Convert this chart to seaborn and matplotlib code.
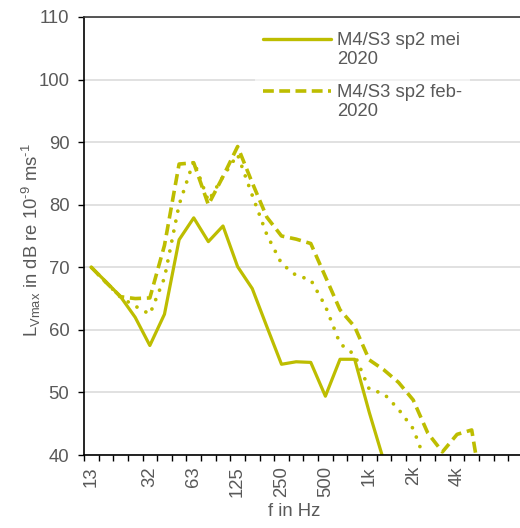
import numpy as np
import matplotlib
matplotlib.use("Agg")
import matplotlib.pyplot as plt
import matplotlib.transforms as mtransforms
from matplotlib.legend_handler import HandlerLine2D
from matplotlib.lines import Line2D
import seaborn as sns

# one-third octave band centres (Hz), plotted as categories
bands = ["12.5", "16", "20", "25", "31.5", "40", "50", "63", "80", "100",
         "125", "160", "200", "250", "315", "400", "500", "630", "800", "1k",
         "1.25k", "1.6k", "2k", "2.5k", "3.15k", "4k", "5k", "6.3k", "8k", "10k"]
label_idx = [0, 4, 7, 10, 13, 16, 19, 22, 25]
label_txt = ["13", "32", "63", "125", "250", "500", "1k", "2k", "4k"]

# L_Vmax per band (dB re 1e-9 m/s)
mei_2020 = [70.0, 67.7, 65.3, 62.0, 57.5, 62.5, 74.4, 77.9, 74.1, 76.6,
            70.1, 66.6, 60.5, 54.5, 54.9, 54.8, 49.4, 55.3, 55.3, 46.8,
            39.0]
feb_2020 = [70.0, 67.6, 65.3, 65.0, 65.1, 73.5, 86.5, 86.7, 80.0, 84.5,
            89.3, 83.5, 78.0, 75.0, 74.5, 73.8, 68.5, 63.2, 60.5, 55.2,
            53.6, 51.6, 48.8, 43.5, 40.5, 43.3, 44.0, 30.0]
extra_run = [70.0, 67.6, 65.2, 63.8, 62.5, 68.3, 80.0, 87.0, 80.6, 84.5,
             88.0, 81.5, 75.2, 70.6, 68.7, 68.0, 63.8, 57.8, 56.0, 50.5,
             49.8, 47.3, 44.2, 38.0]

legend_labels = ["M4/S3 sp2 mei\n2020", "M4/S3 sp2 feb-\n2020"]

LINE = "#bdbd00"
TXT = "#595959"
FS = 13.3

sns.set_theme(style="white")
plt.rcParams["font.family"] = ["Liberation Sans", "DejaVu Sans"]
plt.rcParams["mathtext.fontset"] = "custom"
plt.rcParams["mathtext.rm"] = "Liberation Sans"
plt.rcParams["mathtext.default"] = "regular"

W, H = 520, 528
fig = plt.figure(figsize=(W / 100, H / 100), dpi=100)
ax = fig.add_axes([84 / W, 1 - 455 / H, (W - 84) / W, (455 - 17) / H])

sns.lineplot(x=np.arange(len(mei_2020)), y=mei_2020, ax=ax, color=LINE,
             lw=2.3, solid_capstyle="round")

sns.lineplot(x=np.arange(len(feb_2020)), y=feb_2020, ax=ax, color=LINE, lw=2.6)
l_dash = ax.lines[-1]
l_dash.set_dashes((3.1, 1.6))
l_dash.set_dash_capstyle("butt")

sns.lineplot(x=np.arange(len(extra_run)), y=extra_run, ax=ax, color=LINE, lw=2.7)
l_dot = ax.lines[-1]
l_dot.set_dashes((0.01, 2.7))
l_dot.set_dash_capstyle("round")

# axes limits and ticks
ax.set_ylim(40, 110)
ax.set_xlim(-0.5, -0.5 + (W - 84) / 14.63)
ax.set_yticks(np.arange(40, 111, 10))
ax.set_xticks(label_idx)
ax.set_xticklabels(label_txt, rotation=90, va="top", ha="center")
ax.set_xticks(np.arange(len(bands)) - 0.5, minor=True)

ax.tick_params(axis="x", which="major", length=0, pad=8, labelsize=FS,
               labelcolor=TXT)
ax.tick_params(axis="x", which="minor", length=4.5, width=1.0, color="black",
               direction="out", bottom=True)
ax.tick_params(axis="y", which="major", length=4.5, width=1.0, color="black",
               direction="out", left=True, pad=6, labelsize=FS, labelcolor=TXT)

ax.grid(axis="y", color="#d9d9d9", lw=1.1)
ax.grid(axis="x", visible=False)
ax.set_axisbelow(True)

for side in ["left", "bottom"]:
    ax.spines[side].set_color("black")
    ax.spines[side].set_linewidth(1.2)
ax.spines["top"].set_color("#3a3a3a")
ax.spines["top"].set_linewidth(1.2)
ax.spines["right"].set_visible(False)

ax.set_ylabel("L$_{Vmax}$ in dB re 10$^{\u20109}$ ms$^{\u20101}$",
              fontsize=FS, color=TXT)
ax.yaxis.set_label_coords((43 - 84) / (W - 84), 0.49)
ax.set_xlabel("f in Hz", fontsize=FS, color=TXT)
ax.xaxis.set_label_coords(0.481, (455 - 503) / (455 - 17))


class FirstLineHandler(HandlerLine2D):
    """Line handle aligned with the first line of a two-line label."""

    def __init__(self, shift, **kw):
        super().__init__(**kw)
        self.shift = shift

    def create_artists(self, legend, orig_handle, xdescent, ydescent, width,
                       height, fontsize, trans):
        arts = super().create_artists(legend, orig_handle, xdescent, ydescent,
                                      width, height, fontsize, trans)
        off = mtransforms.Affine2D().translate(0, self.shift)
        for a in arts:
            a.set_transform(off + trans)
        return arts


h_solid = Line2D([], [], color=LINE, lw=2.4, solid_capstyle="round")
h_dash = Line2D([], [], color=LINE, lw=2.6, dashes=(3.0, 1.5),
                dash_capstyle="butt")
handler = FirstLineHandler(8.3)
leg = ax.legend([h_solid, h_dash], legend_labels,
                handler_map={h_solid: handler, h_dash: handler},
                loc="upper left", bbox_to_anchor=(255 / W, 1 - 24.5 / H),
                bbox_transform=fig.transFigure, borderaxespad=0,
                borderpad=0.42, handlelength=3.7, handletextpad=0.3,
                labelspacing=0.85, fontsize=FS, frameon=True,
                facecolor="white", edgecolor="none", framealpha=0.6,
                fancybox=False)
for t in leg.get_texts():
    t.set_color(TXT)
    t.set_linespacing(1.16)

fig.savefig("out.png", dpi=100)
